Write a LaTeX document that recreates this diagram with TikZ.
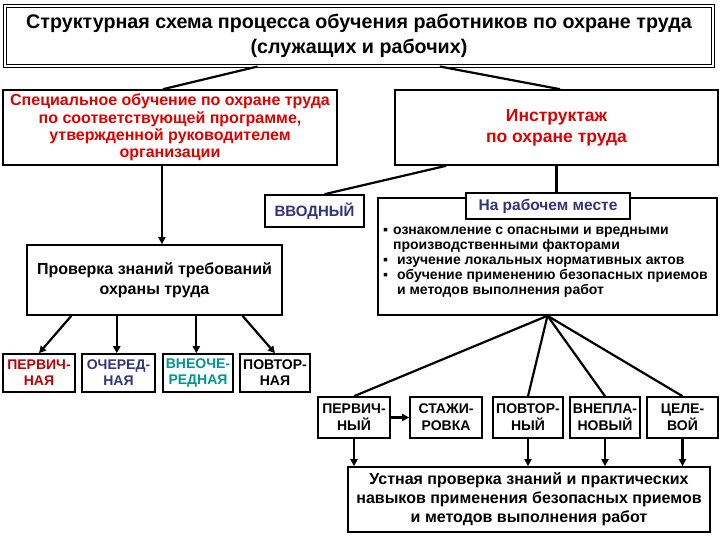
\documentclass[tikz,border=0pt]{standalone}
\usepackage{fontspec}
\setmainfont{Liberation Sans}
\usetikzlibrary{arrows.meta,positioning,calc}
\definecolor{SchemeRed}{RGB}{225,0,0}
\definecolor{SchemeDarkRed}{RGB}{190,0,0}
\definecolor{SchemeNavy}{RGB}{51,51,128}
\definecolor{SchemeTeal}{RGB}{0,150,150}

\begin{document}
\begin{tikzpicture}[x=1pt,y=-1pt,
  blk/.style={draw,line width=1.6pt,align=center,inner sep=0pt,fill=white},
  kind/.style={blk,minimum width=70pt,minimum height=38pt,
               font=\fontsize{14}{16}\selectfont\bfseries},
  form/.style={blk,minimum width=71pt,minimum height=41pt,
               font=\fontsize{14}{17}\selectfont\bfseries},
  ln/.style={line width=2.2pt},
  arr/.style={line width=2.2pt,-{Triangle[length=7pt,width=7pt]}},
]
\useasboundingbox (0,0) rectangle (720,540);
% Title --- whole scheme
\node[blk,double,double distance=2pt,line width=1pt,minimum width=708pt,
      minimum height=60pt,font=\fontsize{19.7}{25}\selectfont\bfseries] (title) at (359,36) {
  Структурная схема процесса обучения работников по охране труда\\
  (служащих и рабочих)};
% Special training --- left branch
\node[blk,minimum width=334pt,minimum height=75pt,text=SchemeRed,
      font=\fontsize{16}{17.3}\selectfont\bfseries] (special) at (170,127.5) {
  Специальное обучение по охране труда\\
  по соответствующей программе,\\
  утвержденной руководителем\\
  организации};
% Briefing --- right branch
\node[blk,minimum width=323pt,minimum height=75pt,text=SchemeRed,
      font=\fontsize{17.5}{21}\selectfont\bfseries] (instr) at (556.5,127.5) {
  Инструктаж\\по охране труда};
\node[blk,minimum width=99pt,minimum height=32pt,text=SchemeNavy,
      font=\fontsize{15}{18}\selectfont\bfseries] (intro) at (314.5,211) {ВВОДНЫЙ};
% On the job --- box with its label on top
\node[blk,minimum width=339pt,minimum height=117pt] (onjob) at (547.5,256.5) {};
\node[blk,minimum width=164pt,minimum height=26pt,text=SchemeNavy,
      font=\fontsize{15.5}{17}\selectfont\bfseries] (onjoblbl) at (548,206) {На рабочем месте};
\node[anchor=north west,inner sep=0pt,align=left,
      font=\fontsize{14}{17.5}\selectfont\bfseries] (onjobtxt) at (383,222) {%
  \begin{tabular}{@{}l@{\hspace{5pt}}l@{}}
  ▪ & ознакомление с опасными и вредными\\[-2.5pt]
    & производственными факторами\\[-2.5pt]
  ▪ & \ изучение локальных нормативных актов\\[-2.5pt]
  ▪ & \ обучение применению безопасных приемов\\[-2.5pt]
    & \ и методов выполнения работ
  \end{tabular}};
% Knowledge check --- left side
\node[blk,minimum width=255pt,minimum height=70pt,
      font=\fontsize{16}{20}\selectfont\bfseries] (check) at (154.5,280) {
  Проверка знаний требований\\охраны труда};
\node[kind,minimum width=72pt,text=SchemeDarkRed] (chk1) at (39,373) {ПЕРВИЧ-\\НАЯ};
\node[kind,minimum width=73pt,text=SchemeNavy] (chk2) at (118.5,373) {ОЧЕРЕД-\\НАЯ};
\node[kind,text=SchemeTeal] (chk3) at (198,373) {ВНЕОЧЕ-\\РЕДНАЯ};
\node[kind] (chk4) at (275,373) {ПОВТОР-\\НАЯ};
% Briefing forms --- right side
\node[form,minimum width=72pt] (brf1) at (354,417.5) {ПЕРВИЧ-\\НЫЙ};
\node[form,minimum width=72pt] (brf2) at (446,417.5) {СТАЖИ-\\РОВКА};
\node[form,minimum width=70pt] (brf3) at (528,417.5) {ПОВТОР-\\НЫЙ};
\node[form,minimum width=70pt] (brf4) at (605,417.5) {ВНЕПЛА-\\НОВЫЙ};
\node[form] (brf5) at (682.5,417.5) {ЦЕЛЕ-\\ВОЙ};
\node[blk,minimum width=362pt,minimum height=65pt,
      font=\fontsize{16}{19}\selectfont\bfseries] (oral) at (529,499.5) {
  Устная проверка знаний и практических\\
  навыков применения безопасных приемов\\
  и методов выполнения работ};
% Connectors
\draw[ln] ($(title.south west)!0.357!(title.south east)$)
  -- ($(special.north west)!0.479!(special.north east)$);
\draw[ln] ($(title.south west)!0.614!(title.south east)$)
  -- ($(instr.north west)!0.511!(instr.north east)$);
\draw[ln] ($(instr.south west)!0.16!(instr.south east)$)
  -- ($(intro.north west)!0.6!(intro.north east)$);
\draw[ln] (instr.south) -- (instr.south |- onjoblbl.north);
\draw[arr] ($(special.south west)!0.476!(special.south east)$) coordinate (sp)
  -- (sp |- check.north);
\draw[arr] ($(check.south west)!0.176!(check.south east)$) -- (chk1.north);
\draw[arr] ($(check.south west)!0.353!(check.south east)$) coordinate (c2)
  -- (c2 |- chk2.north);
\draw[arr] ($(check.south west)!0.663!(check.south east)$) coordinate (c3)
  -- (c3 |- chk3.north);
\draw[arr] ($(check.south west)!0.843!(check.south east)$) -- (chk4.north);
\foreach \b in {brf1,brf3,brf4,brf5}
  \draw[ln] (onjob.south) -- (\b.north);
\draw[arr] (brf1.east) -- (brf2.west);
\foreach \b in {brf1,brf3,brf4,brf5}
  \draw[arr] (\b.south) -- (\b.south |- oral.north);
\end{tikzpicture}
\end{document}
